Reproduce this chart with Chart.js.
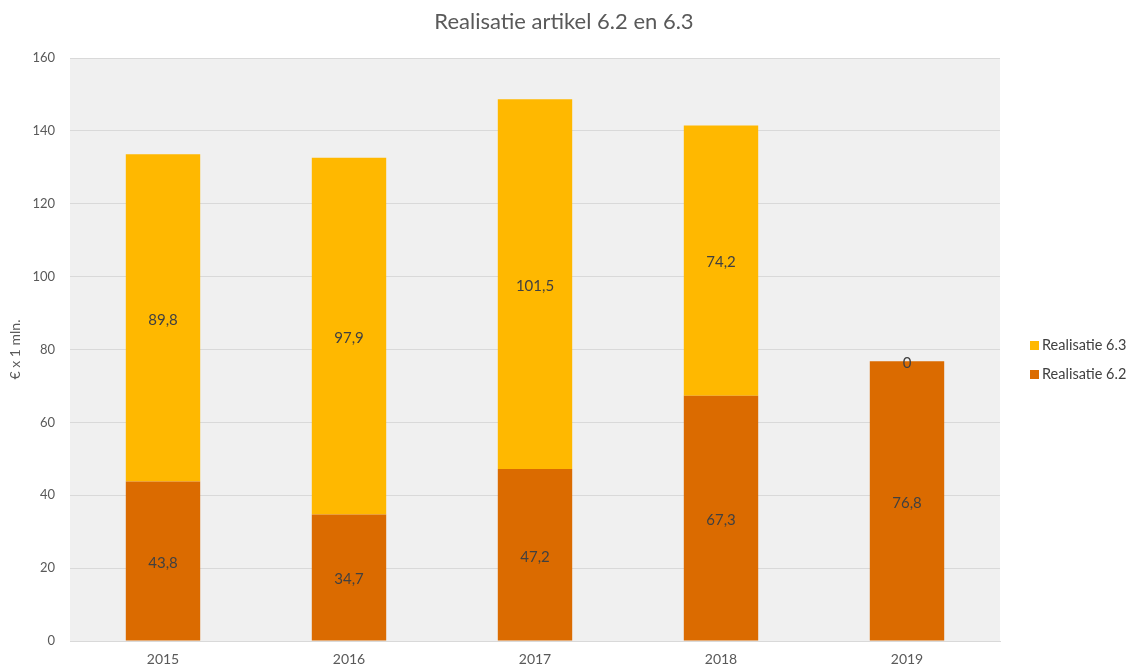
<!DOCTYPE html>
<html>
<head>
<meta charset="utf-8">
<script src="https://cdn.jsdelivr.net/npm/chart.js@4/dist/chart.umd.min.js"></script>
<style>
  html, body { margin: 0; padding: 0; background: #fff; overflow: hidden; }
  #myChart { display: block; }
</style>
</head>
<body>
<canvas id="myChart" width="1128" height="668"></canvas>
<script>
// data
const years = ['2015', '2016', '2017', '2018', '2019'];
const real62 = [43.8, 34.7, 47.2, 67.3, 76.8];
const real63 = [89.8, 97.9, 101.5, 74.2, 0];
const yTicks = [0, 20, 40, 60, 80, 100, 120, 140, 160];

const FONT = 'Lato, "Open Sans", sans-serif';
const TITLE = 'Realisatie artikel 6.2 en 6.3';

// grijze achtergrond van het plotvlak + titel midden boven
const plotBg = {
    id: 'plotBg',
    beforeDraw(chart) {
        const a = chart.chartArea;
        const ctx = chart.ctx;
        ctx.save();
        ctx.fillStyle = '#f0f0f0';
        ctx.fillRect(a.left, a.top, a.right - a.left, a.bottom - a.top);
        ctx.font = '22px ' + FONT;
        ctx.fillStyle = '#595959';
        ctx.textAlign = 'center';
        ctx.textBaseline = 'middle';
        ctx.fillText(TITLE, chart.width / 2, 22);
        ctx.restore();
    }
};

// waardes midden in de balk
const barLabels = {
    id: 'barLabels',
    afterDatasetsDraw(chart) {
        const ctx = chart.ctx;
        ctx.save();
        ctx.font = '15px ' + FONT;
        ctx.fillStyle = '#404040';
        ctx.textAlign = 'center';
        ctx.textBaseline = 'middle';
        chart.data.datasets.forEach((ds, di) => {
            const meta = chart.getDatasetMeta(di);
            meta.data.forEach((bar, i) => {
                const v = ds.data[i];
                const y = (bar.y + bar.base) / 2 + 2;
                ctx.fillText(String(v).replace('.', ','), bar.x, y);
            });
        });
        ctx.restore();
    }
};

// legenda rechts, 6.3 boven
const sideLegend = {
    id: 'sideLegend',
    afterDraw(chart) {
        const ctx = chart.ctx;
        const a = chart.chartArea;
        const x = a.right + 30;
        const mid = (a.top + a.bottom) / 2;
        const items = chart.data.datasets.slice().reverse();
        ctx.save();
        ctx.font = '14.5px ' + FONT;
        ctx.textBaseline = 'middle';
        items.forEach((ds, i) => {
            const y = mid - 4 + i * 29;
            ctx.fillStyle = ds.backgroundColor;
            ctx.fillRect(x, y - 4.5, 9, 9);
            ctx.fillStyle = '#404040';
            ctx.fillText(ds.label, x + 12, y);
        });
        ctx.restore();
    }
};

const mct = document.getElementById('myChart');

const myChart = new Chart(mct, {
    type: 'bar',
    data: {
        labels: years,
        datasets: [{
            label: 'Realisatie 6.2',
            data: real62,
            backgroundColor: '#db6b00',
            barPercentage: 0.4,
            categoryPercentage: 1
        }, {
            label: 'Realisatie 6.3',
            data: real63,
            backgroundColor: '#ffb800',
            barPercentage: 0.4,
            categoryPercentage: 1
        }]
    },
    options: {
        responsive: false,
        animation: false,
        devicePixelRatio: 1,
        layout: { padding: { left: 3, right: 128, top: 58, bottom: 0 } },
        plugins: {
            legend: { display: false },
            tooltip: { enabled: false }
        },
        scales: {
            x: {
                stacked: true,
                grid: { display: false },
                border: { color: '#d9d9d9' },
                ticks: { color: '#595959', font: { family: FONT, size: 14 }, padding: 2 },
                afterFit(scale) { scale.height = 27; }
            },
            y: {
                stacked: true,
                min: 0,
                max: 160,
                afterBuildTicks(axis) {
                    axis.ticks = yTicks.map(v => ({ value: v }));
                },
                grid: { color: '#d9d9d9', drawTicks: false },
                border: { display: false },
                ticks: { color: '#595959', font: { family: FONT, size: 13 }, padding: 15 },
                title: {
                    display: true,
                    text: '€ x 1 mln.',
                    color: '#595959',
                    font: { family: FONT, size: 14 },
                    padding: { top: 4, bottom: 10 }
                },
                afterFit(scale) { scale.width = 67; }
            }
        }
    },
    plugins: [plotBg, barLabels, sideLegend]
});
</script>
</body>
</html>
